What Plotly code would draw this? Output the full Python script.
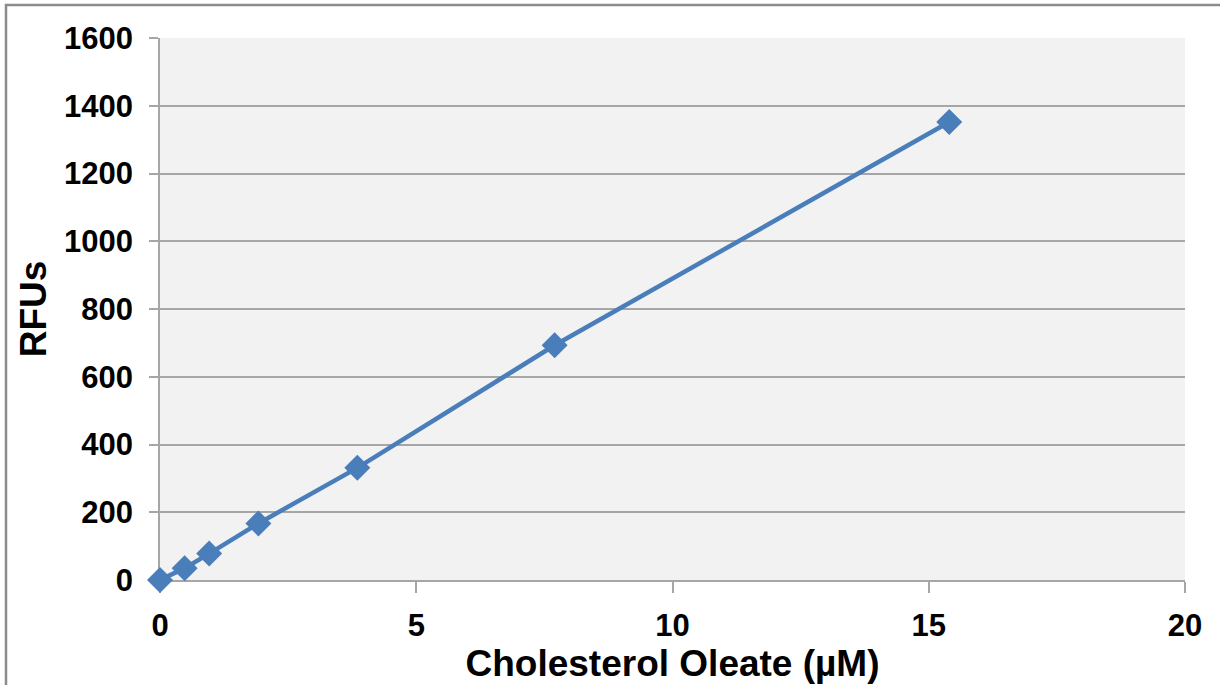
import plotly.graph_objects as go

conc = [0, 0.48, 0.96, 1.92, 3.85, 7.7, 15.4]
rfu = [0, 35, 78, 167, 331, 693, 1352]
x_ticks = [0, 5, 10, 15, 20]
y_ticks = [0, 200, 400, 600, 800, 1000, 1200, 1400, 1600]

blue = "#4A7EBB"
grid = "#A6A6A6"
font = "Liberation Sans"

fig = go.Figure()
fig.add_trace(go.Scatter(
    x=conc, y=rfu, mode="lines+markers",
    line=dict(color=blue, width=4.5),
    marker=dict(symbol="diamond", size=20, color=blue),
    cliponaxis=False, showlegend=False,
))

tickfont = dict(size=31, family=font, color="black", weight="bold")
titlefont = dict(size=37, family=font, color="black", weight="bold")

fig.update_layout(
    width=1220, height=685,
    margin=dict(l=160, r=35, t=38, b=105, autoexpand=False),
    paper_bgcolor="white", plot_bgcolor="#F2F2F2",
    font=dict(family=font, color="black"),
    xaxis=dict(
        range=[0, 20], tickvals=x_ticks, ticks="outside", ticklen=11,
        tickcolor=grid, tickwidth=1.5, showgrid=False, zeroline=False,
        showline=True, linecolor=grid, linewidth=1.5, automargin=False,
        layer="below traces",
        tickfont=tickfont, ticklabelstandoff=6,
        title=dict(text="Cholesterol Oleate (µM)", font=titlefont, standoff=8),
    ),
    yaxis=dict(
        range=[0, 1600], tickvals=y_ticks, ticks="outside", ticklen=9,
        tickcolor=grid, tickwidth=1.5, showgrid=True, gridcolor=grid, gridwidth=1.5,
        zeroline=False, showline=True, linecolor=grid, linewidth=1.5, automargin=False,
        layer="below traces",
        tickfont=tickfont, ticklabelstandoff=10,
        title=dict(text="RFUs", font=titlefont, standoff=6),
    ),
)

# outer frame (only top and left visible within the image)
fig.add_shape(type="rect", xref="paper", yref="paper",
              x0=(6 - 160) / 1025, x1=(1240 - 160) / 1025,
              y0=-(720 - 580) / 542, y1=1 + (38 - 5) / 542,
              line=dict(color="#8C8C8C", width=2.5), fillcolor="rgba(0,0,0,0)",
              layer="below")

fig.write_html("out.html", config={"displayModeBar": False},
               post_script="document.body.style.margin='0';")
